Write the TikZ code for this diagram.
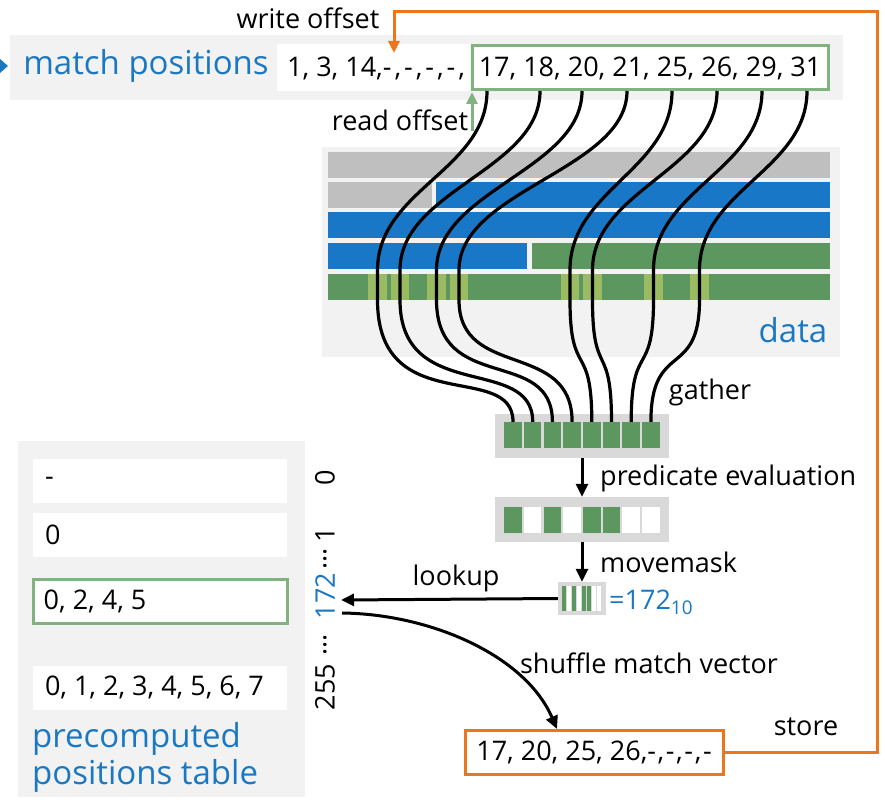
\documentclass[tikz,border=0pt]{standalone}
\usepackage{fontspec}
\setmainfont{Open Sans}
\usetikzlibrary{arrows.meta,calc}
\definecolor{txtblue}{RGB}{26,120,194}
\definecolor{datablue}{RGB}{24,119,198}
\definecolor{datagreen}{RGB}{91,151,94}
\definecolor{lightgreen}{RGB}{155,187,98}
\definecolor{boxgreen}{RGB}{130,178,128}
\definecolor{midgray}{RGB}{191,191,191}
\definecolor{panelgray}{RGB}{242,242,242}
\definecolor{vecgray}{RGB}{217,217,217}
\definecolor{orangeline}{RGB}{236,118,28}
\begin{document}
\begin{tikzpicture}[x=1pt,y=-1pt,
  txt/.style={font=\fontsize{27}{32}\selectfont, inner sep=0pt, text=black},
  bigtxt/.style={font=\fontsize{33}{38}\selectfont, inner sep=0pt, text=txtblue},
  wire/.style={line width=3.2pt, black},
  blackarrow/.style={line width=3pt, black, -{Triangle[length=13pt,width=12pt]}},
  rowbox/.style={fill=white, draw=none, minimum width=254pt, minimum height=44pt, inner sep=0pt},
  cellg/.style={fill=datagreen, minimum width=17.5pt, minimum height=26pt, inner sep=0pt},
  cellw/.style={fill=white, minimum width=17.5pt, minimum height=26pt, inner sep=0pt},
]
\useasboundingbox (0,0) rectangle (885,805);

% ---------- top band ----------
\fill[panelgray] (10,35) rectangle (843,100);
\fill[txtblue] (0,59) -- (8,66) -- (0,73) -- cycle;
\node[bigtxt] (mptitle) at (146,66) {match positions};
\fill[white] (277,44) rectangle (470,91);
\node[txt, anchor=west] (oldpos) at (287,68) {1, 3, 14,{\addfontfeature{LetterSpace=11}-,-,-,-,}};
\node[draw=boxgreen, line width=3pt, fill=white, minimum width=356pt, minimum height=44pt, inner sep=0pt] (mp) at (650,68) {};
\node[txt] (mptext) at (650,68) {17, 18, 20, 21, 25, 26, 29, 31};

\node[txt] (wolabel) at (308,18) {write offset};
\node[txt] (rolabel) at (400,120) {read offset};
\coordinate (roS) at (472,131);
\coordinate (roE) at (472,92);
\draw[line width=3pt, boxgreen, -{Triangle[length=12pt,width=11pt]}] (roS) -- (roE);

% ---------- data panel ----------
\fill[panelgray] (322,147) rectangle (840,357);
\fill[midgray] (328,152) rectangle (830,178);
\fill[midgray] (328,182) rectangle (432,208);
\fill[datablue] (436,182) rectangle (830,208);
\fill[datablue] (328,212) rectangle (830,238);
\fill[datablue] (328,243) rectangle (527,269);
\fill[datagreen] (532,243) rectangle (830,269);
\fill[datagreen] (328,274) rectangle (830,300);
\foreach \a/\b in {368/387, 391/409, 427/446, 450/468, 561/579, 583/602, 644/663, 690/709}
  \fill[lightgreen] (\a,274) rectangle (\b,300);
\node[bigtxt] (datalabel) at (793,330) {data};

% ---------- gather vector ----------
\fill[vecgray] (495,414) rectangle (669,458);
\foreach \i in {1,...,8}
  \node[cellg] (g\i) at ({513+19.7*(\i-1)},435) {};
\node[txt] (gatherlabel) at (710,392) {gather};

% ---------- wires ----------
\foreach \i/\xs/\xh/\ca/\cb in {1/487/377.5/420/360, 2/540/400/405/354, 3/582/436.5/395/346, 4/627/459/380/340, 5/672/570/380/340, 6/717/592.5/380/340, 7/762/653.5/380/340, 8/807/699.5/380/340}{
  \coordinate (s\i) at (\xs,91);
  \draw[wire] (s\i) .. controls (\xs,170) and (\xh,190) .. (\xh,270) -- (\xh,300)
     .. controls (\xh,\ca) and ($(g\i.north)+(0,\cb-422)$) .. (g\i.north);
}

% ---------- predicate vector ----------
\fill[vecgray] (495,497) rectangle (669,542);
\foreach \i/\s in {1/cellg,2/cellw,3/cellg,4/cellw,5/cellg,6/cellg,7/cellw,8/cellw}
  \node[\s] (p\i) at ({513+19.7*(\i-1)},519.5) {};
\node[draw=none, minimum width=174pt, minimum height=45pt, inner sep=0pt] (pv) at (582,519.5) {};
\node[draw=none, minimum width=174pt, minimum height=44pt, inner sep=0pt] (gv) at (582,436) {};
\draw[blackarrow] (gv.south) -- (pv.north);
\node[txt, anchor=west] (predlabel) at (600,478) {predicate evaluation};

% ---------- movemask ----------
\node[fill=vecgray, minimum width=48pt, minimum height=33pt, inner sep=0pt] (mm) at (582,598.5) {};
\foreach \i/\c in {1/datagreen,2/white,3/datagreen,4/white,5/datagreen,6/datagreen,7/white,8/white}
  \fill[\c] ({561.5+5*(\i-1)},586) rectangle ({565.5+5*(\i-1)},611);
\draw[blackarrow] (pv.south) -- (mm.north);
\node[txt, anchor=west] (mmlabel) at (600,562) {movemask};
\node[txt, anchor=west, text=txtblue] (val) at (609,602) {=172\textsubscript{10}};

% ---------- table ----------
\fill[panelgray] (18,441) rectangle (305,797);
\node[rowbox] (r0) at (160,481) {};
\node[txt, anchor=west] at ([xshift=12pt]r0.west) {-};
\node[rowbox] (r1) at (160,535) {};
\node[txt, anchor=west] at ([xshift=12pt]r1.west) {0};
\node[rowbox, draw=boxgreen, line width=3pt, minimum width=254pt, minimum height=44pt] (r172) at (160,601) {};
\node[txt, anchor=west] at ([xshift=12pt]r172.west) {0, 2, 4, 5};
\node[rowbox] (r255) at (160,687.5) {};
\node[txt, anchor=west] at ([xshift=12pt]r255.west) {0, 1, 2, 3, 4, 5, 6, 7};
\node[bigtxt, anchor=north west, align=left, font=\fontsize{33}{37}\selectfont] (tbl) at (32,722) {precomputed\\positions table};

% rotated index labels
\node[txt, rotate=90] (i0) at (325,478) {0};
\node[txt, rotate=90] (i1) at (325,535) {1};
\node[txt, rotate=90] (d1) at (325,559) {...};
\node[txt, rotate=90, text=txtblue] (i172) at (325,596) {172};
\node[txt, rotate=90] (d2) at (325,645) {...};
\node[txt, rotate=90] (i255) at (325,687) {255};

% ---------- lookup / shuffle ----------
\coordinate (lkE) at (341,600);
\draw[blackarrow] (mm.west) -- (lkE);
\node[txt] (lklabel) at (456,578) {lookup};

\node[draw=orangeline, line width=3pt, fill=white, minimum width=258pt, minimum height=44pt, inner sep=0pt] (sv) at (594,752.5) {};
\node[txt] (svtext) at (594,752.5) {17, 20, 25, 26,{\addfontfeature{LetterSpace=6}-,-,-,-}};
\coordinate (shS) at (342,613);
\draw[blackarrow] (shS) .. controls (430,614) and (525,655) .. ($(sv.north)+(-37,0)$);
\node[txt] (shlabel) at (649,663) {shuffle match vector};

\node[txt] (storelabel) at (806,727) {store};
\coordinate (woE) at (394,53);
\draw[line width=3pt, orangeline, -{Triangle[length=12pt,width=11pt]}] (sv.east) -- (877,752.5) -- (877,12) -- (394,12) -- (woE);
\end{tikzpicture}
\end{document}
